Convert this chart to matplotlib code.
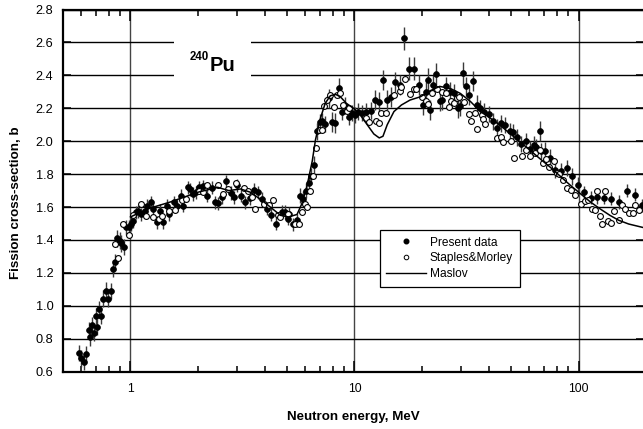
import matplotlib
matplotlib.use("Agg")
import matplotlib.pyplot as plt
from matplotlib.patches import Rectangle
from matplotlib.lines import Line2D

plt.rcParams['font.family'] = ['Liberation Sans', 'DejaVu Sans']

# Present data: neutron energy (MeV), fission cross-section (b), uncertainty (b)
pres_E = [0.592, 0.604, 0.623, 0.636, 0.651, 0.658, 0.674, 0.686, 0.700, 0.710,
          0.727, 0.742, 0.758, 0.779, 0.798, 0.820, 0.837, 0.857, 0.872, 0.896,
          0.911, 0.934, 0.960, 0.990, 1.01, 1.03, 1.06, 1.08, 1.12, 1.16,
          1.18, 1.23, 1.26, 1.31, 1.36, 1.40, 1.45, 1.49, 1.57, 1.61,
          1.68, 1.72, 1.80, 1.85, 1.91, 1.97, 2.03, 2.11, 2.20, 2.31,
          2.39, 2.45, 2.57, 2.68, 2.80, 2.89, 2.99, 3.12, 3.26, 3.41,
          3.55, 3.70, 3.87, 4.07, 4.26, 4.48, 4.75, 4.92, 5.03, 5.12,
          5.30, 5.54, 5.70, 5.90, 6.10, 6.25, 6.40, 6.63, 6.78, 7.01,
          7.17, 7.41, 7.68, 7.94, 8.22, 8.50, 8.80, 9.10, 9.43, 9.76,
          10.1, 10.4, 10.8, 11.3, 11.9, 12.3, 12.8, 13.4, 14.0, 14.6,
          15.2, 15.9, 16.7, 17.5, 18.5, 19.5, 20.3, 20.8, 21.3, 21.8,
          22.4, 23.2, 24.0, 24.6, 25.5, 26.6, 27.8, 28.9, 29.7, 30.5,
          31.6, 32.4, 33.9, 35.3, 36.5, 38.0, 39.8, 41.6, 43.4, 45.2,
          47.2, 49.4, 51.1, 53.2, 55.5, 58.0, 60.6, 63.2, 64.9, 67.2,
          68.1, 71.2, 74.5, 78.9, 83.1, 88.4, 93.7, 99.3, 105.7, 113.2,
          121.2, 130.6, 140.0, 151.4, 163.8, 177.8, 192.4]
pres_xs = [0.712, 0.681, 0.661, 0.706, 0.853, 0.809, 0.884, 0.837, 0.938, 0.873,
           0.979, 0.938, 1.044, 1.092, 1.044, 1.090, 1.226, 1.266, 1.410, 1.396,
           1.380, 1.356, 1.477, 1.477, 1.500, 1.517, 1.568, 1.574, 1.557, 1.578,
           1.608, 1.628, 1.588, 1.507, 1.578, 1.507, 1.608, 1.557, 1.628, 1.608,
           1.668, 1.608, 1.719, 1.709, 1.679, 1.689, 1.719, 1.725, 1.670, 1.717,
           1.630, 1.624, 1.660, 1.757, 1.685, 1.660, 1.731, 1.670, 1.630, 1.655,
           1.705, 1.690, 1.650, 1.590, 1.554, 1.500, 1.570, 1.570, 1.530, 1.560,
           1.495, 1.520, 1.668, 1.650, 1.700, 1.745, 1.790, 1.858, 2.060, 2.115,
           2.120, 2.105, 2.260, 2.115, 2.110, 2.323, 2.176, 2.216, 2.150, 2.170,
           2.160, 2.180, 2.170, 2.180, 2.186, 2.250, 2.240, 2.370, 2.250, 2.270,
           2.360, 2.343, 2.625, 2.440, 2.440, 2.343, 2.220, 2.300, 2.374, 2.188,
           2.340, 2.408, 2.246, 2.250, 2.333, 2.300, 2.290, 2.200, 2.212, 2.414,
           2.333, 2.280, 2.364, 2.222, 2.200, 2.180, 2.164, 2.120, 2.083, 2.108,
           2.100, 2.063, 2.053, 2.023, 1.983, 2.000, 1.953, 1.980, 1.963, 2.063,
           1.939, 1.943, 1.900, 1.826, 1.818, 1.838, 1.786, 1.732, 1.690, 1.657,
           1.660, 1.657, 1.650, 1.631, 1.700, 1.675, 1.610]
pres_err = [0.05, 0.05, 0.05, 0.05, 0.05, 0.05, 0.05, 0.05, 0.05, 0.05,
            0.05, 0.05, 0.05, 0.05, 0.05, 0.05, 0.05, 0.05, 0.05, 0.05,
            0.05, 0.05, 0.045, 0.045, 0.045, 0.045, 0.04, 0.04, 0.04, 0.04,
            0.04, 0.04, 0.04, 0.04, 0.04, 0.04, 0.04, 0.04, 0.04, 0.04,
            0.04, 0.04, 0.04, 0.04, 0.04, 0.04, 0.04, 0.04, 0.04, 0.04,
            0.04, 0.04, 0.04, 0.04, 0.04, 0.04, 0.04, 0.04, 0.04, 0.04,
            0.04, 0.04, 0.04, 0.04, 0.04, 0.04, 0.04, 0.04, 0.04, 0.04,
            0.04, 0.04, 0.045, 0.045, 0.045, 0.045, 0.05, 0.05, 0.05, 0.05,
            0.05, 0.05, 0.06, 0.06, 0.06, 0.06, 0.05, 0.05, 0.05, 0.05,
            0.05, 0.05, 0.05, 0.05, 0.05, 0.06, 0.06, 0.06, 0.06, 0.06,
            0.06, 0.06, 0.07, 0.07, 0.07, 0.06, 0.06, 0.06, 0.07, 0.06,
            0.06, 0.07, 0.06, 0.06, 0.06, 0.06, 0.06, 0.06, 0.06, 0.07,
            0.06, 0.06, 0.06, 0.06, 0.05, 0.05, 0.05, 0.05, 0.05, 0.05,
            0.05, 0.05, 0.05, 0.05, 0.05, 0.05, 0.05, 0.05, 0.05, 0.06,
            0.05, 0.05, 0.05, 0.05, 0.05, 0.05, 0.05, 0.05, 0.04, 0.04,
            0.04, 0.04, 0.04, 0.04, 0.04, 0.04, 0.04]

# Staples & Morley
sm_E = [0.854, 0.884, 0.931, 0.990, 1.03, 1.11, 1.17, 1.26, 1.34, 1.39,
        1.49, 1.58, 1.70, 1.77, 2.02, 2.10, 2.20, 2.47, 2.60, 2.72,
        2.96, 3.20, 3.34, 3.48, 3.60, 3.96, 4.17, 4.32, 4.55, 4.67,
        5.03, 5.45, 5.63, 5.82, 6.00, 6.12, 6.30, 6.55, 6.70, 6.95,
        7.17, 7.30, 7.55, 7.80, 8.07, 8.37, 8.65, 8.90, 9.30, 9.50,
        11.2, 11.6, 12.5, 12.9, 13.2, 13.8, 15.0, 15.9, 16.2, 16.8,
        17.7, 18.4, 18.9, 20.1, 20.8, 21.3, 22.2, 23.4, 24.6, 25.7,
        26.3, 27.0, 27.9, 28.7, 29.4, 30.7, 32.4, 33.2, 34.4, 35.3,
        37.0, 37.6, 38.4, 43.4, 44.9, 46.1, 50.0, 51.3, 55.9, 58.0,
        60.6, 63.8, 67.2, 69.5, 71.9, 73.8, 78.1, 79.8, 82.0, 85.4,
        88.4, 92.8, 96.1, 102.2, 106.4, 110.0, 115.0, 118.6, 121.4, 124.5,
        127.7, 131.9, 134.9, 139.4, 144.1, 151.4, 155.6, 162.0, 167.5, 174.5,
        179.4, 186.9]
sm_xs = [1.374, 1.289, 1.500, 1.430, 1.550, 1.620, 1.547, 1.540, 1.530, 1.547,
         1.578, 1.580, 1.640, 1.650, 1.700, 1.690, 1.731, 1.737, 1.680, 1.710,
         1.745, 1.717, 1.700, 1.660, 1.590, 1.616, 1.610, 1.640, 1.554, 1.540,
         1.560, 1.500, 1.497, 1.570, 1.616, 1.600, 1.700, 1.790, 1.956, 2.070,
         2.070, 2.216, 2.250, 2.283, 2.210, 2.280, 2.290, 2.222, 2.186, 2.200,
         2.140, 2.117, 2.120, 2.110, 2.170, 2.170, 2.280, 2.307, 2.327, 2.380,
         2.287, 2.320, 2.320, 2.267, 2.246, 2.226, 2.290, 2.320, 2.300, 2.290,
         2.206, 2.246, 2.230, 2.260, 2.270, 2.240, 2.166, 2.125, 2.170, 2.077,
         2.160, 2.137, 2.105, 2.020, 2.023, 1.993, 2.003, 1.898, 1.913, 1.947,
         1.913, 1.927, 1.947, 1.866, 1.892, 1.842, 1.878, 1.806, 1.798, 1.762,
         1.718, 1.706, 1.671, 1.621, 1.637, 1.645, 1.590, 1.585, 1.697, 1.545,
         1.497, 1.700, 1.517, 1.505, 1.577, 1.520, 1.611, 1.591, 1.561, 1.561,
         1.611, 1.581]

# Maslov evaluation
mas_E = [1.0, 1.2, 1.5, 2.0, 2.45, 2.75, 3.1, 3.43, 3.87, 4.3,
         4.67, 5.07, 5.54, 5.82, 6.12, 6.48, 6.7, 7.05, 7.4, 7.8,
         8.22, 8.65, 9.2, 9.9, 10.6, 11.4, 12.2, 12.9, 13.4, 14.0,
         15.0, 16.2, 17.7, 19.7, 21.8, 24.0, 26.8, 29.7, 33.0, 36.5,
         40.4, 44.9, 49.8, 55.2, 61.0, 67.5, 74.8, 83.1, 92.0, 102.0,
         113.0, 124.5, 138.0, 151.0, 167.5, 194.0]
mas_xs = [1.54, 1.59, 1.63, 1.69, 1.72, 1.70, 1.71, 1.69, 1.64, 1.59,
          1.55, 1.54, 1.555, 1.62, 1.72, 1.88, 2.01, 2.14, 2.23, 2.276,
          2.285, 2.27, 2.23, 2.20, 2.16, 2.10, 2.044, 2.02, 2.03, 2.10,
          2.18, 2.22, 2.25, 2.27, 2.307, 2.333, 2.32, 2.29, 2.24, 2.18,
          2.14, 2.094, 2.043, 1.993, 1.943, 1.892, 1.842, 1.786, 1.732, 1.681,
          1.631, 1.59, 1.55, 1.52, 1.497, 1.476]

y_ticks = [0.6, 0.8, 1.0, 1.2, 1.4, 1.6, 1.8, 2.0, 2.2, 2.4, 2.6, 2.8]
y_tick_labels = ['0.6', '0.8', '1.0', '1.2', '1.4', '1.6', '1.8', '2.0',
                 '2.2', '2.4', '2.6', '2.8']
x_ticks = [1, 10, 100]
x_tick_labels = ['1', '10', '100']

fig = plt.figure(figsize=(6.43, 4.29), dpi=100)
W, H = 643.0, 429.0
ax = fig.add_axes([63 / W, (H - 371.7) / H, 581 / W, 362.2 / H])

ax.set_xscale('log')
ax.set_xlim(0.5, 196)
ax.set_ylim(0.6, 2.8)

ax.set_axisbelow(True)
ax.set_yticks(y_ticks)
ax.set_yticklabels(y_tick_labels)
ax.set_xticks(x_ticks)
ax.set_xticklabels(x_tick_labels)
ax.yaxis.grid(True, color='black', linewidth=1.0)
ax.xaxis.grid(True, which='major', color='#444444', linewidth=1.0)

ax.tick_params(axis='x', which='major', direction='in', length=8, width=1.1,
               top=True, bottom=True, labelsize=8.7, pad=8.0)
ax.tick_params(axis='x', which='minor', direction='in', length=4.2, width=1.1,
               top=True, bottom=True)
ax.tick_params(axis='y', which='major', direction='in', length=6, width=1.1,
               left=True, right=True, labelsize=9.2, pad=7.0)
ax.tick_params(axis='y', which='minor', left=False, right=False)
for side in ['left', 'bottom', 'top', 'right']:
    ax.spines[side].set_linewidth(1.6)

# white panel behind the nuclide label
ax.add_patch(Rectangle((1.57, 2.32), 3.46 - 1.57, 2.68 - 2.32,
                       facecolor='white', edgecolor='none', zorder=1))
ax.text(2.24, 2.492, '240', fontsize=8.3, fontweight='bold',
        ha='right', va='baseline', zorder=2)
ax.text(2.25, 2.424, 'Pu', fontsize=14.5, fontweight='bold',
        ha='left', va='baseline', zorder=2)

ax.errorbar(pres_E, pres_xs, yerr=pres_err, fmt='o', color='black',
            ecolor='#3a3a3a', elinewidth=1.0, capsize=0, markersize=4.2,
            markeredgewidth=0.5, zorder=3)
ax.plot(sm_E, sm_xs, 'o', markerfacecolor='white', markeredgecolor='black',
        markeredgewidth=0.8, markersize=4.2, linestyle='none', zorder=4)
ax.plot(mas_E, mas_xs, '-', color='black', linewidth=1.1, zorder=5)

handles = [
    Line2D([], [], marker='o', color='black', linestyle='none', markersize=3.3),
    Line2D([], [], marker='o', markerfacecolor='white', markeredgecolor='black',
           markeredgewidth=0.7, linestyle='none', markersize=3.3),
    Line2D([], [], color='black', linewidth=1.0),
]
labels = ['Present data', 'Staples&Morley', 'Maslov']
leg = ax.legend(handles, labels, loc='upper left',
                bbox_to_anchor=(0.545, 0.391), borderaxespad=0, fontsize=8.6,
                frameon=True, fancybox=False, framealpha=1, edgecolor='black',
                handlelength=3.3, handletextpad=0.35, labelspacing=0.32,
                borderpad=0.55)
leg.get_frame().set_linewidth(0.9)
leg.set_zorder(6)

ax.set_xlabel('Neutron energy, MeV', fontsize=9.6, fontweight='bold',
              labelpad=12)
ax.set_ylabel('Fission cross-section, b', fontsize=9.6, fontweight='bold')
ax.yaxis.set_label_coords(-0.071, 0.466)

fig.savefig('out.png', dpi=100)
